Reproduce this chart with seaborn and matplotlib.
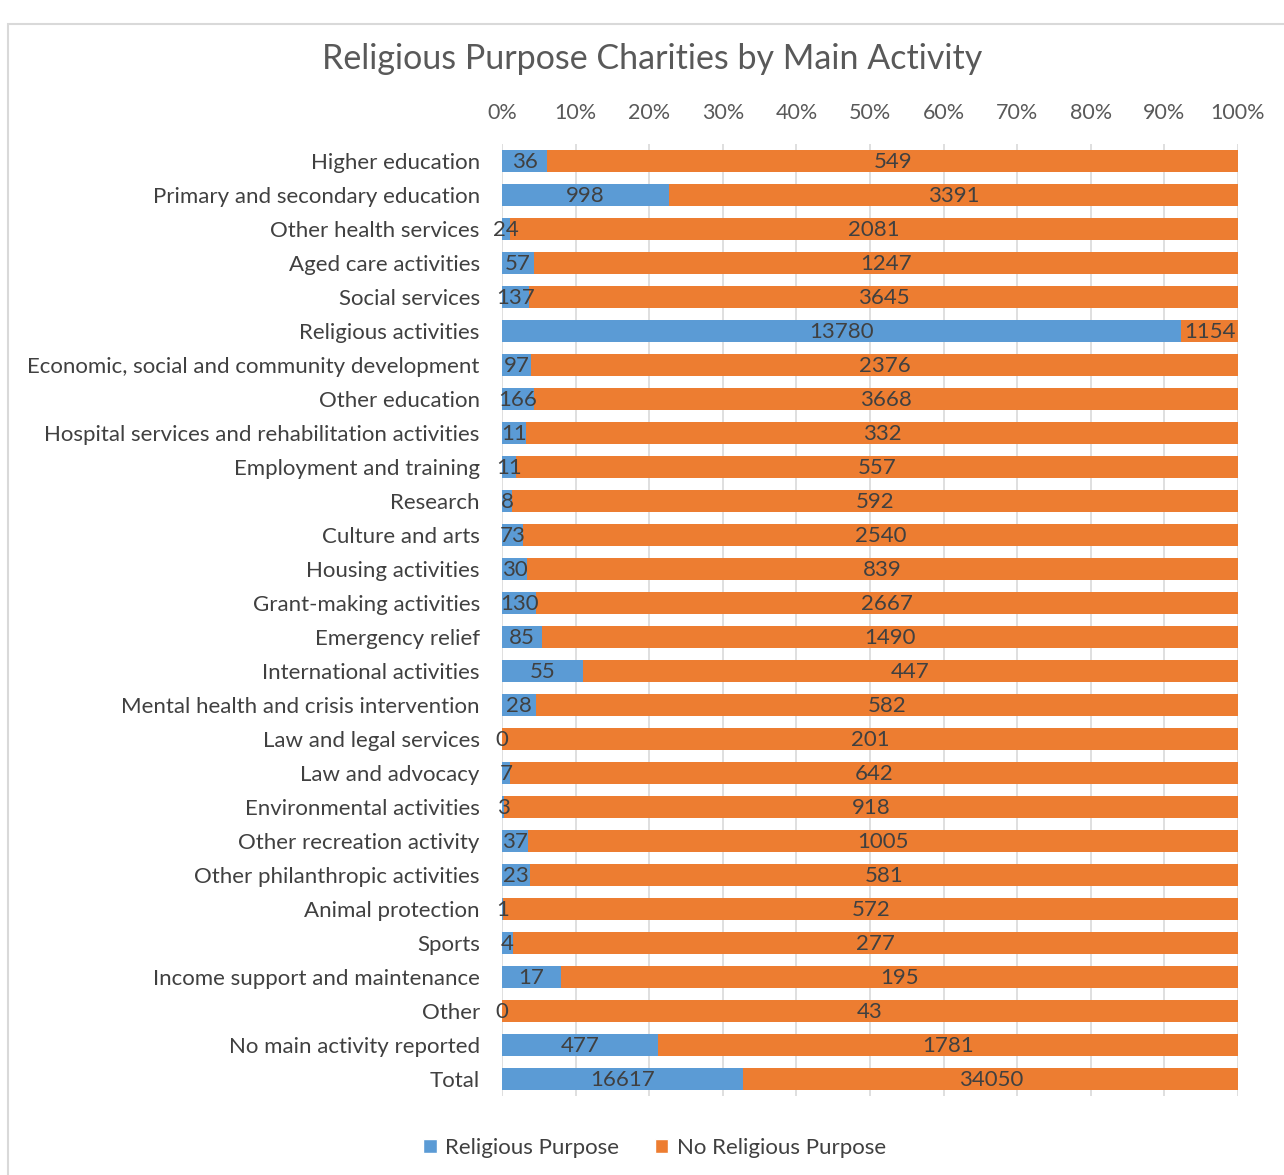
import matplotlib
matplotlib.use("Agg")
import matplotlib.pyplot as plt
import seaborn as sns
import pandas as pd
from matplotlib.patches import Rectangle, Patch

categories = [
    "Higher education", "Primary and secondary education", "Other health services",
    "Aged care activities", "Social services", "Religious activities",
    "Economic, social and community development", "Other education",
    "Hospital services and rehabilitation activities", "Employment and training",
    "Research", "Culture and arts", "Housing activities", "Grant-making activities",
    "Emergency relief", "International activities", "Mental health and crisis intervention",
    "Law and legal services", "Law and advocacy", "Environmental activities",
    "Other recreation activity", "Other philanthropic activities", "Animal protection",
    "Sports", "Income support and maintenance", "Other", "No main activity reported", "Total",
]
religious = [36, 998, 24, 57, 137, 13780, 97, 166, 11, 11, 8, 73, 30, 130, 85, 55, 28,
             0, 7, 3, 37, 23, 1, 4, 17, 0, 477, 16617]
no_religious = [549, 3391, 2081, 1247, 3645, 1154, 2376, 3668, 332, 557, 592, 2540, 839,
                2667, 1490, 447, 582, 201, 642, 918, 1005, 581, 572, 277, 195, 43, 1781, 34050]
x_ticks = [0, 10, 20, 30, 40, 50, 60, 70, 80, 90, 100]

BLUE = "#5B9BD5"
ORANGE = "#ED7D31"
TXT = "#404040"

df = pd.DataFrame({"cat": categories, "rel": religious, "norel": no_religious})
df["total"] = df["rel"] + df["norel"]
df["rel_pct"] = df["rel"] / df["total"] * 100
df["full_pct"] = 100.0

sns.set_theme(style="white")
plt.rcParams["font.family"] = ["Lato", "DejaVu Sans"]

fig = plt.figure(figsize=(12.84, 11.75), dpi=100)
ax = fig.add_axes([0.391, 0.0672, 0.5732, 0.8103])

sns.barplot(data=df, x="full_pct", y="cat", color=ORANGE, orient="h", width=0.65,
            saturation=1, ax=ax, zorder=2, linewidth=0)
sns.barplot(data=df, x="rel_pct", y="cat", color=BLUE, orient="h", width=0.65,
            saturation=1, ax=ax, zorder=3, linewidth=0)

for i, row in df.iterrows():
    ax.text(row["rel_pct"] / 2, i + 0.04, f"{row['rel']}", ha="center", va="center",
            fontsize=16, color=TXT, zorder=5)
    ax.text(row["rel_pct"] + (100 - row["rel_pct"]) / 2, i + 0.04, f"{row['norel']}",
            ha="center", va="center", fontsize=16, color=TXT, zorder=5)

ax.set_xlim(0, 100)
ax.set_ylim(len(categories) - 0.5, -0.5)
ax.set_xticks(x_ticks)
ax.set_xticklabels([f"{t}%" for t in x_ticks])
ax.xaxis.tick_top()
ax.tick_params(axis="x", length=0, pad=15, labelsize=15.5, labelcolor="#595959")
ax.tick_params(axis="y", length=0, pad=16, labelsize=16, labelcolor=TXT)
ax.set_xlabel("")
ax.set_ylabel("")
ax.grid(axis="x", color="#D9D9D9", linewidth=1.2, zorder=0)
ax.set_axisbelow(True)
for s in ax.spines.values():
    s.set_visible(False)

fig.text(0.508, 0.950, "Religious Purpose Charities by Main Activity", ha="center",
         va="center", fontsize=24.5, color="#595959")

handles = [Patch(facecolor=BLUE, label="Religious Purpose"),
           Patch(facecolor=ORANGE, label="No Religious Purpose")]
fig.legend(handles=handles, loc="center", bbox_to_anchor=(0.51, 0.023), ncol=2,
           frameon=False, fontsize=16, handlelength=0.6, handleheight=0.6,
           handletextpad=0.4, columnspacing=1.6, labelcolor=TXT)

fig.patches.append(Rectangle((0.006, -0.01), 1.2, 1.0 - 0.01, transform=fig.transFigure,
                             fill=False, edgecolor="#D9D9D9", linewidth=1.5))

fig.savefig("out.png", dpi=100, facecolor="white")
